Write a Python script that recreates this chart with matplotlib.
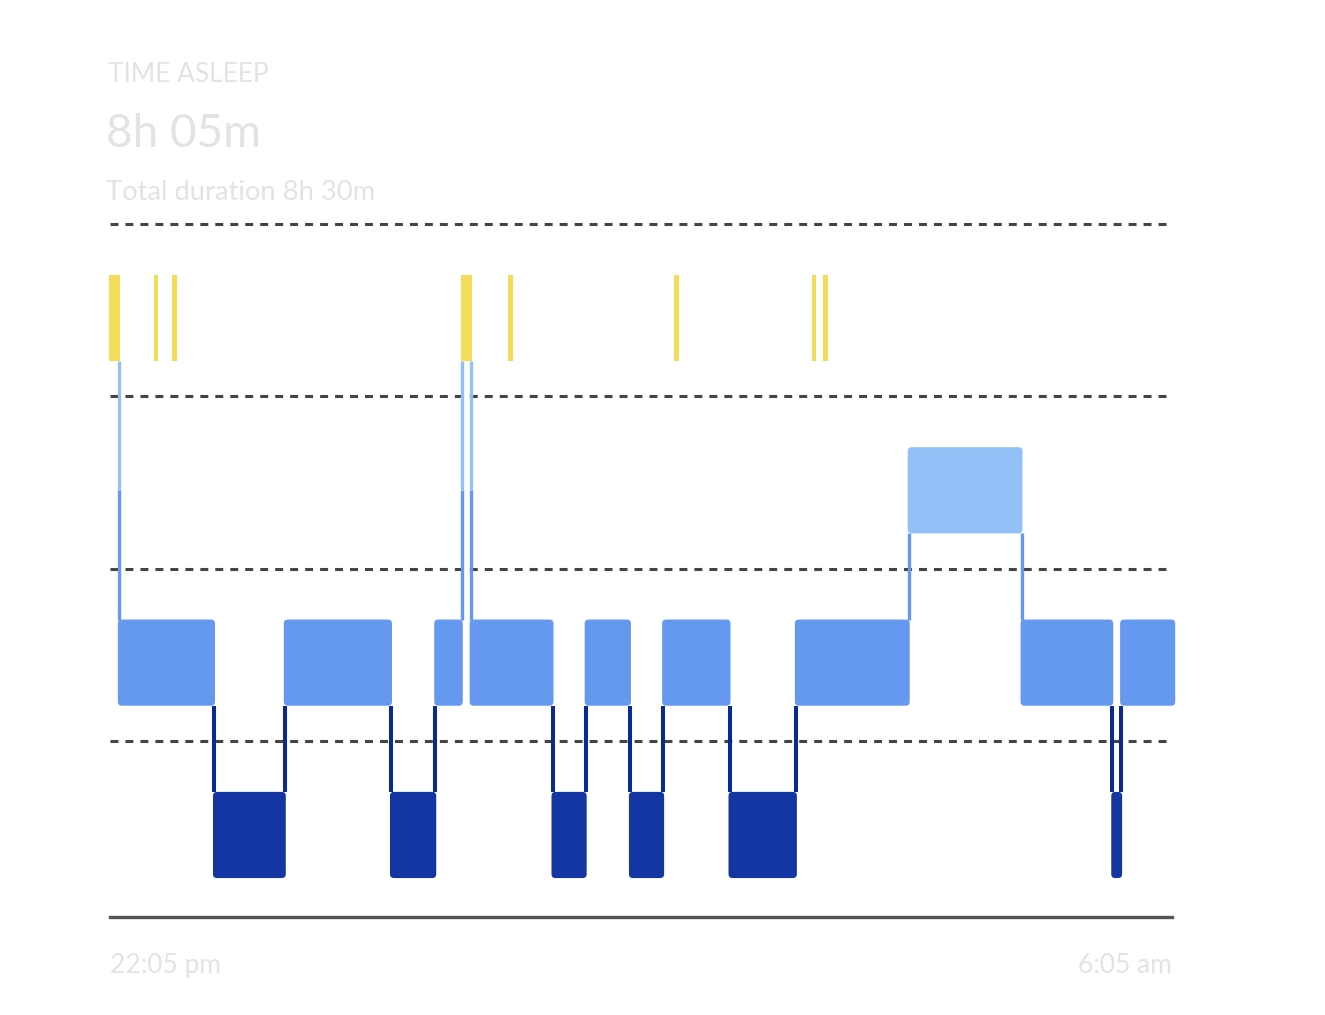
import matplotlib
matplotlib.use('Agg')
import matplotlib.pyplot as plt
from matplotlib.patches import FancyBboxPatch

# Schlafphasen (Minuten ab 22:05)
stage_levels = {'Deep': 0, 'Light': 1, 'REM': 2, 'Awake': 3}
seg_edges = [0, 4, 47, 79, 127, 147, 159, 163, 200, 215, 235, 250, 280, 310, 361, 412, 453, 457, 481]
seg_stage = ['Awake', 'Light', 'Deep', 'Light', 'Deep', 'Light', 'Awake', 'Light', 'Deep',
             'Light', 'Deep', 'Light', 'Deep', 'Light', 'REM', 'Light', 'Deep', 'Light']

# kurze Wachphasen ohne Übergang
brief_awake_start = [19.9, 28.0, 179.9, 254.9, 317.3, 322.3]
brief_awake_end = [21.7, 30.3, 182.1, 257.2, 319.1, 324.6]

title = 'TIME ASLEEP'
asleep = '8h 05m'
subtitle = 'Total duration 8h 30m'
start_label = '22:05 pm'
end_label = '6:05 am'

colors = {'Awake': '#f4dc58', 'REM': '#93c0f6', 'Light': '#6598ef', 'Deep': '#1336a3'}
deep_line = '#0a2a8f'
text_color = '#e3e3e3'

W, H = 1325, 1015
fig = plt.figure(figsize=(W / 100, H / 100), dpi=100)
ax = fig.add_axes([110 / W, (H - 917) / H, 1062 / W, 701.6 / H])
ax.set_xlim(0, 480)
ax.set_ylim(-0.021, 4.05)
ax.axis('off')

x_per_px = 480 / 1062
y_per_px = 4.071 / 701.6
bot, top = 0.205, 0.705
pad = 1.0 * x_per_px
rnd = 4 * x_per_px
aspect = y_per_px / x_per_px

# Gitterlinien
for k in range(1, 5):
    ax.axhline(k, color='#444444', lw=2.2, ls=(0, (2.6, 2.3)), zorder=1)
ax.axhline(-0.021, color='#555555', lw=2.4, zorder=1, clip_on=False)


def block(x0, x1, lev, c, r):
    style = f'round,pad=0,rounding_size={r}' if r > 0 else 'square,pad=0'
    p = FancyBboxPatch((x0, lev + bot), x1 - x0, top - bot,
                       boxstyle=style, mutation_aspect=aspect,
                       fc=c, ec='none', lw=0, zorder=3, clip_on=False)
    ax.add_patch(p)


# Übergänge
for i in range(1, len(seg_stage)):
    a, b = seg_stage[i - 1], seg_stage[i]
    x = seg_edges[i]
    la, lb = stage_levels[a], stage_levels[b]
    lo, hi = min(la, lb), max(la, lb)
    y0, y1 = lo + top, hi + bot
    if 'Deep' in (a, b):
        ax.vlines(x, y0, y1, color=deep_line, lw=2.9, zorder=2)
    elif 'Awake' in (a, b):
        mid = 2 + (bot + top) / 2
        ax.vlines(x, y0, mid, color=colors['Light'], lw=2.4, zorder=2)
        ax.vlines(x, mid, y1, color=colors['REM'], lw=2.4, zorder=2)
    else:
        ax.vlines(x, y0, y1, color=colors['Light'], lw=2.4, zorder=2)

# Blöcke
for i, s in enumerate(seg_stage):
    r = 0 if s == 'Awake' else rnd
    block(seg_edges[i] - pad, seg_edges[i + 1] + pad, stage_levels[s], colors[s], r)

for s0, s1 in zip(brief_awake_start, brief_awake_end):
    ax.bar((s0 + s1) / 2, top - bot, width=s1 - s0, bottom=3 + bot,
           color=colors['Awake'], zorder=3)

# Texte
font = 'Lato'
fig.text(108 / W, 1 - 82 / H, title, color=text_color, fontsize=19, family=font, va='baseline')
fig.text(106 / W, 1 - 147 / H, asleep, color=text_color, fontsize=33, family=font, va='baseline')
fig.text(106 / W, 1 - 200 / H, subtitle, color=text_color, fontsize=19.7, family=font, va='baseline')
fig.text(110 / W, 1 - 973 / H, start_label, color=text_color, fontsize=19, family=font, va='baseline')
fig.text(1172 / W, 1 - 973 / H, end_label, color=text_color, fontsize=19, family=font,
         va='baseline', ha='right')

fig.savefig('out.png', dpi=100, facecolor='white')
